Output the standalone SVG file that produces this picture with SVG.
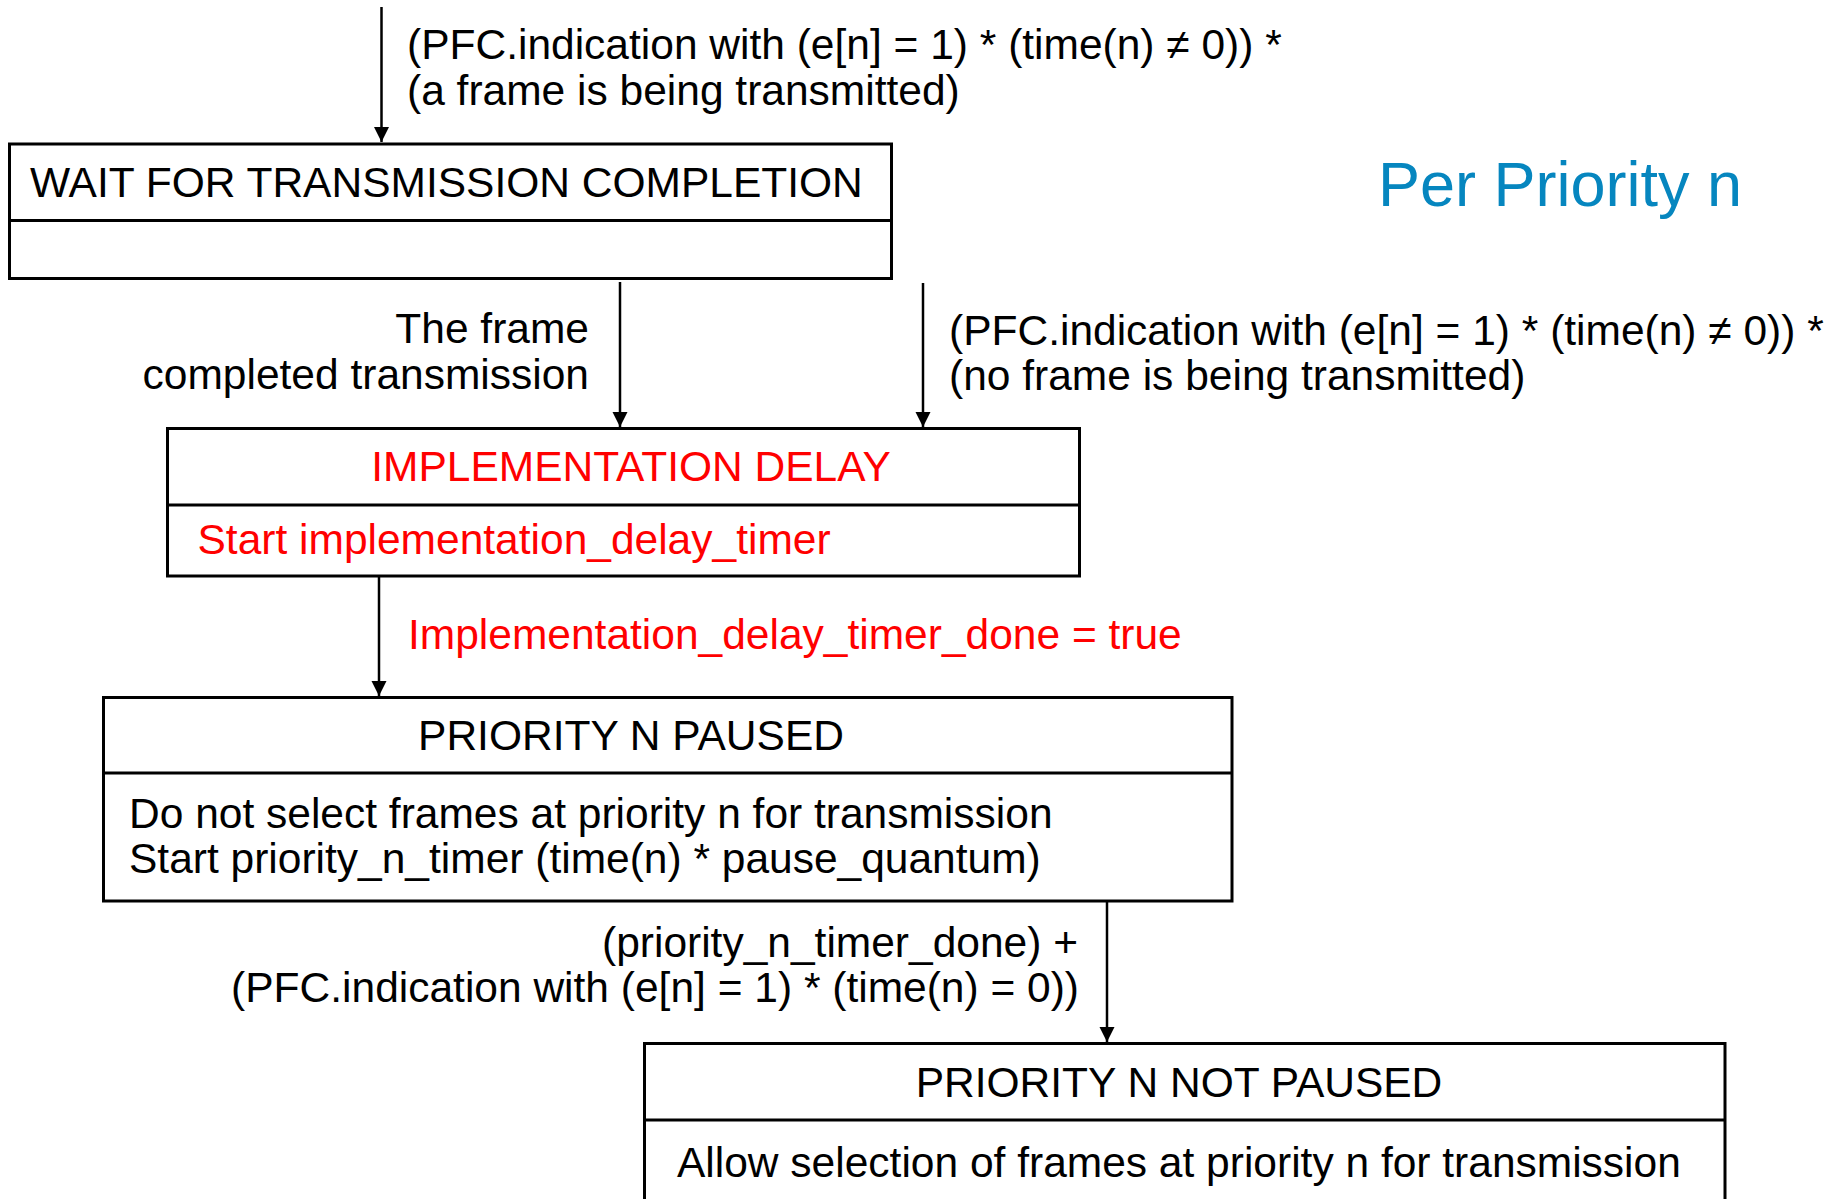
<svg xmlns="http://www.w3.org/2000/svg" width="1841" height="1199" viewBox="0 0 1841 1199">
<style>
text{font-family:"Liberation Sans",Arial,sans-serif;font-size:42.5px;fill:#000}
.red{fill:#FF0000}
.box{fill:#fff;stroke:#000;stroke-width:3}
.div{stroke:#000;stroke-width:3}
.conn{stroke:#000;stroke-width:2.5;fill:none}
.title{font-size:63px;fill:#0686BF}
.end{text-anchor:end}
.mid{text-anchor:middle}
</style>
<defs>
<marker id="arr" markerUnits="userSpaceOnUse" markerWidth="16" markerHeight="16" viewBox="0 0 16 16" refX="15" refY="8" orient="auto">
<path d="M0,0.5 L15,8 L0,15.5 Z" fill="#000"/>
</marker>
</defs>
<rect width="1841" height="1199" fill="#fff"/>
<g id="connectors">
<line class="conn" x1="381.5" y1="7" x2="381.5" y2="142" marker-end="url(#arr)"/>
<line class="conn" x1="620" y1="282" x2="620" y2="427" marker-end="url(#arr)"/>
<line class="conn" x1="923" y1="283" x2="923" y2="427" marker-end="url(#arr)"/>
<line class="conn" x1="379" y1="577" x2="379" y2="696" marker-end="url(#arr)"/>
<line class="conn" x1="1107" y1="902" x2="1107" y2="1042" marker-end="url(#arr)"/>
</g>
<g id="labels">
<text x="407" y="58.5">(PFC.indication with (e[n] = 1) * (time(n) ≠ 0)) *</text>
<text x="407" y="104.5">(a frame is being transmitted)</text>
<text class="end" x="589" y="343">The frame</text>
<text class="end" x="589" y="389">completed transmission</text>
<text x="949" y="345">(PFC.indication with (e[n] = 1) * (time(n) ≠ 0)) *</text>
<text x="949" y="390">(no frame is being transmitted)</text>
<text class="red" x="408" y="649">Implementation_delay_timer_done = true</text>
<text class="end" x="1078" y="957">(priority_n_timer_done) +</text>
<text class="end" x="1079" y="1002">(PFC.indication with (e[n] = 1) * (time(n) = 0))</text>
<text class="title" x="1378" y="205.5">Per Priority n</text>
</g>
<g id="wait">
<rect class="box" x="9.5" y="144" width="882" height="134.5"/>
<line class="div" x1="9.5" y1="220.5" x2="891.5" y2="220.5"/>
<text x="30" y="197">WAIT FOR TRANSMISSION COMPLETION</text>
</g>
<g id="impl">
<rect class="box" x="167.5" y="428.5" width="912" height="147.5"/>
<line class="div" x1="167.5" y1="505" x2="1079.5" y2="505"/>
<text class="red mid" x="631" y="481">IMPLEMENTATION DELAY</text>
<text class="red" x="197.5" y="554">Start implementation_delay_timer</text>
</g>
<g id="paused">
<rect class="box" x="103.5" y="697.5" width="1128.5" height="203.5"/>
<line class="div" x1="103.5" y1="773" x2="1232" y2="773"/>
<text class="mid" x="631" y="750">PRIORITY N PAUSED</text>
<text x="129" y="828">Do not select frames at priority n for transmission</text>
<text x="129" y="873">Start priority_n_timer (time(n) * pause_quantum)</text>
</g>
<g id="notpaused">
<rect class="box" x="644.5" y="1043.5" width="1080.5" height="170"/>
<line class="div" x1="644.5" y1="1120" x2="1725" y2="1120"/>
<text class="mid" x="1179" y="1097">PRIORITY N NOT PAUSED</text>
<text x="677" y="1177">Allow selection of frames at priority n for transmission</text>
</g>
</svg>
